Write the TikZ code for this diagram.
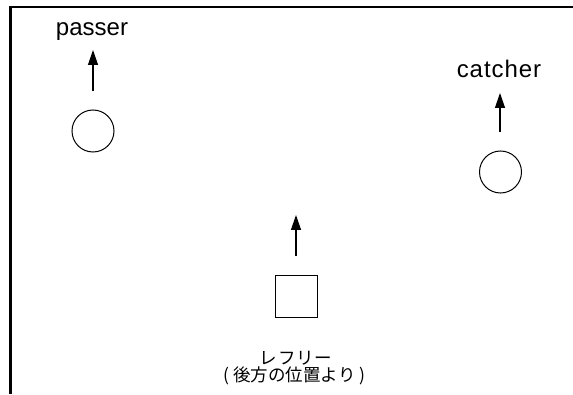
\documentclass[tikz,border=0pt]{standalone}
\usepackage{fontspec}
\setmainfont{Liberation Sans}
\newfontfamily\jpfont{Noto Sans CJK JP}
\usetikzlibrary{arrows.meta}
\begin{document}
\begin{tikzpicture}[x=1pt,y=1pt,
  player/.style={draw,circle,minimum size=42pt,inner sep=0pt,line width=1pt},
  referee/.style={draw,rectangle,minimum size=42pt,inner sep=0pt,line width=1pt},
  facing/.style={line width=1.3pt,-{Triangle[length=15pt,width=10pt]}},
  lbl/.style={inner sep=0pt,anchor=base,font=\fontsize{24}{28}\selectfont},
  jp/.style={inner sep=0pt,font=\jpfont\fontsize{17.5}{21}\selectfont}]
\useasboundingbox (0,0) rectangle (573,394);
\coordinate (tl) at (10.3,387);
\coordinate (tr) at (573,387);
\coordinate (bl) at (10.3,0);
\draw[line width=2.8pt] (tr) -- (tl) -- (bl);
% passer
\node[player] (passer) at (93,263) {};
\coordinate (pa) at (93,303);
\coordinate (pb) at (93,344);
\draw[facing] (pa) -- (pb);
\node[lbl] (passerlbl) at (92,358) {passer};
% catcher
\node[player] (catcher) at (500.5,222) {};
\coordinate (ca) at (500,262);
\coordinate (cb) at (500,301);
\draw[facing] (ca) -- (cb);
\node[lbl] (catcherlbl) at (499,316) {\addfontfeatures{LetterSpace=4}catcher};
% referee
\node[referee] (ref) at (296,97.5) {};
\coordinate (ra) at (296,138);
\coordinate (rb) at (296,179);
\draw[facing] (ra) -- (rb);
\node[jp] (reflbl) at (296,36) {\addfontfeatures{LetterSpace=4}レフリー};
\node[jp] (refpos) at (294.5,18.5) {( 後方の位置より )};
\end{tikzpicture}
\end{document}
